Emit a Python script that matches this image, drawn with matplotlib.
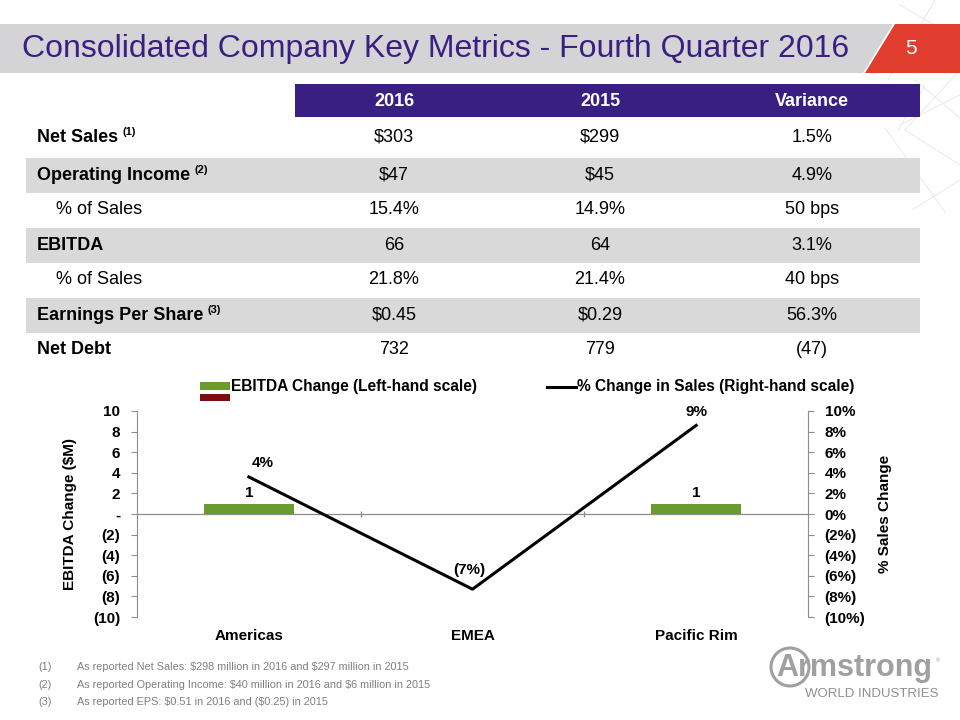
import matplotlib
matplotlib.use("Agg")
import matplotlib.pyplot as plt
from matplotlib import font_manager
from matplotlib.patches import Rectangle, Polygon, Circle

# ---- data -------------------------------------------------------------
regions = ["Americas", "EMEA", "Pacific Rim"]
ebitda_change = [1, 0, 1]            # $M, left-hand scale
sales_change_pct = [3.6, -7.3, 8.6]  # %, right-hand scale

col_headers = ["2016", "2015", "Variance"]
row_labels = ["Net Sales", "Operating Income", "% of Sales", "EBITDA",
              "% of Sales", "Earnings Per Share", "Net Debt"]
row_notes = ["(1)", "(2)", "", "", "", "(3)", ""]
values_2016 = ["$303", "$47", "15.4%", "66", "21.8%", "$0.45", "732"]
values_2015 = ["$299", "$45", "14.9%", "64", "21.4%", "$0.29", "779"]
variance = ["1.5%", "4.9%", "50 bps", "3.1%", "40 bps", "56.3%", "(47)"]
sub_rows = [False, False, True, False, True, False, False]

footnotes = [
    "As reported Net Sales: $298 million in 2016 and $297 million in 2015",
    "As reported Operating Income: $40 million in 2016 and $6 million in 2015",
    "As reported EPS: $0.51 in 2016 and ($0.25) in 2015",
]

PURPLE = "#3a1f82"
GREEN = "#6b9a2f"
GREY = "#8c8c8c"

names = {f.name for f in font_manager.fontManager.ttflist}
NARROW = "Liberation Sans Narrow" if "Liberation Sans Narrow" in names else "Liberation Sans"
plt.rcParams["font.family"] = ["Liberation Sans", "DejaVu Sans"]
plt.rcParams["text.parse_math"] = False


def left_fmt(v):
    if v == 0:
        return "-"
    return f"({abs(v):.0f})" if v < 0 else f"{v:.0f}"


def pct_fmt(v):
    return f"({abs(v):.0f}%)" if v < 0 else f"{v:.0f}%"


fig = plt.figure(figsize=(9.6, 7.2), dpi=100)

# background layer in pixel coordinates
bg = fig.add_axes([0, 0, 1, 1], zorder=0)
bg.set_xlim(0, 960)
bg.set_ylim(720, 0)
bg.axis("off")

# decorative lattice top right
for (x0, y0), (x1, y1) in [((900, 5), (960, 40)), ((935, 0), (888, 80)), ((960, 70), (905, 130)),
                           ((905, 130), (960, 165)), ((900, 125), (960, 95)), ((915, 80), (960, 118)),
                           ((885, 128), (945, 212)), ((960, 180), (912, 210)), ((925, 85), (898, 130))]:
    bg.plot([x0, x1], [y0, y1], color="#e6e6e6", lw=0.6, zorder=0)

# header band
bg.add_patch(Polygon([(0, 24), (893, 24), (863, 73), (0, 73)], closed=True, color="#d4d4d6", lw=0))
bg.add_patch(Polygon([(895, 24), (960, 24), (960, 73), (865, 73)], closed=True, color="#e23e30", lw=0))
bg.text(22, 49, "Consolidated Company Key Metrics - Fourth Quarter 2016", family=NARROW,
        fontsize=23, color=PURPLE, va="center", ha="left")
bg.text(911, 48, "5", family=NARROW, fontsize=15, color="white", va="center", ha="center")

# table
col_x = [394, 600, 812]
row_y = [137, 175, 210, 245, 280, 315, 350]
bg.add_patch(Rectangle((295, 84), 625, 33, color=PURPLE, lw=0))
for cx, h in zip(col_x, col_headers):
    bg.text(cx, 101, h, family=NARROW, fontsize=13, weight="bold", color="white",
            ha="center", va="center")
for i, y in enumerate(row_y):
    if i % 2 == 1:
        bg.add_patch(Rectangle((26, y - 17.5), 894, 35, color="#d9d9d9", lw=0))
    lab = bg.text(56 if sub_rows[i] else 37, y, row_labels[i], fontsize=13,
                  weight="normal" if sub_rows[i] else "bold", ha="left", va="center")
    if row_notes[i]:
        fig.canvas.draw()
        x_end = lab.get_window_extent().x1
        bg.text(x_end + 4, y - 5, row_notes[i], fontsize=8, weight="bold", ha="left", va="center")
    for cx, vals in zip(col_x, [values_2016, values_2015, variance]):
        bg.text(cx, y, vals[i], fontsize=13, ha="center", va="center")

# legend (drawn manually to mimic the stacked patches)
bg.add_patch(Rectangle((200, 382), 30, 8, color=GREEN, lw=0))
bg.add_patch(Rectangle((200, 394), 30, 7, color="#7b0f0f", lw=0))
bg.text(231, 386, "EBITDA Change (Left-hand scale)", fontsize=11.2, weight="bold", va="center")
bg.plot([547, 576], [387, 387], color="black", lw=2.2)
bg.text(577, 386, "% Change in Sales (Right-hand scale)", fontsize=11.2, weight="bold", va="center")

# footnotes
for k, note in enumerate(footnotes):
    y = 667 + k * 17.5
    bg.text(38, y, f"({k + 1})", family=NARROW, fontsize=7.8, color="#7f7f7f", va="center")
    bg.text(77, y, note, family=NARROW, fontsize=7.8, color="#7f7f7f", va="center")

# logo
bg.add_patch(Circle((790, 667), 19, fill=False, ec="#a0a0a0", lw=2.2))
bg.text(776, 668, "Armstrong", fontsize=22, weight="bold", color="#a0a0a0", ha="left", va="center")
bg.text(938, 661, "®", fontsize=4, color="#a0a0a0", ha="center", va="center")
bg.text(872, 694, "WORLD INDUSTRIES", fontsize=9.5, color="#8f8f8f", ha="center", va="center")

# ---- chart ------------------------------------------------------------
ax = fig.add_axes([137 / 960, 1 - 617 / 720, 671 / 960, 206 / 720], zorder=1)
ax.patch.set_alpha(0)
ax2 = ax.twinx()

x = list(range(len(regions)))
bars = ax.bar(x, ebitda_change, width=0.4, color=GREEN, zorder=2)
for xi, v in zip(x, ebitda_change):
    if v:
        ax.annotate(left_fmt(v), (xi, v), xytext=(0, 3), textcoords="offset points",
                    ha="center", va="bottom", fontsize=11, weight="bold")

ax2.plot(x, sales_change_pct, color="black", lw=2.2, zorder=3)
label_offsets = [(10, 10), (-2, 14), (0, 10)]
for xi, v, off in zip(x, sales_change_pct, label_offsets):
    ax2.annotate(pct_fmt(round(v)), (xi, v), xytext=off, textcoords="offset points",
                 ha="center", va="center", fontsize=11, weight="bold")

ax.set_xlim(-0.5, len(regions) - 0.5)
ax.set_ylim(-10, 10)
ax2.set_ylim(-10, 10)
ticks = list(range(-10, 11, 2))
ax.set_yticks(ticks, labels=[left_fmt(t) for t in ticks], fontsize=11, weight="bold")
ax2.set_yticks(ticks, labels=[pct_fmt(t) for t in ticks], fontsize=11, weight="bold")
ax.set_xticks(x, labels=regions, fontsize=11, weight="bold")
ax.tick_params(axis="x", length=0, pad=9)
ax.tick_params(axis="y", length=4, color=GREY, pad=8)
ax2.tick_params(axis="y", length=4, color=GREY, pad=8)

ax.axhline(0, color=GREY, lw=0.9, zorder=1)
ax.plot([i + 0.5 for i in x[:-1]], [0] * (len(x) - 1), ls="none", marker="|", ms=4,
        color=GREY, mew=0.9)

for s in ("top", "bottom", "right"):
    ax.spines[s].set_visible(False)
    ax2.spines[s if s != "right" else "left"].set_visible(False)
ax.spines["left"].set_color(GREY)
ax2.spines["right"].set_color(GREY)

ax.set_ylabel("EBITDA Change ($M)", fontsize=11, weight="bold")
ax.yaxis.set_label_coords(-0.089, 0.5)
ax2.set_ylabel("% Sales Change", fontsize=11, weight="bold")
ax2.yaxis.set_label_coords(1.105, 0.5)

fig.savefig("out.png", dpi=100)
plt.close(fig)
